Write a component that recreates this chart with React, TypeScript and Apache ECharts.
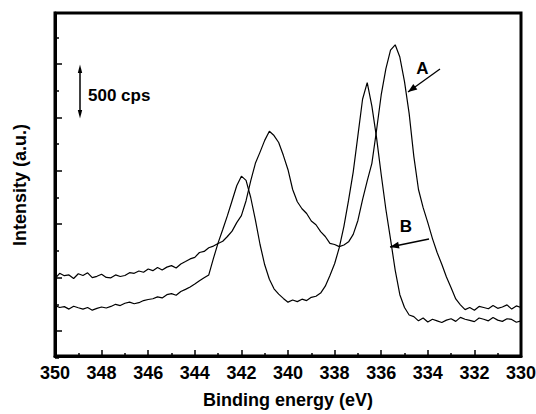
import React, { useEffect, useRef } from "react";
import * as echarts from "echarts";

// Binding energy grid (eV)
const energies = [
  350, 349.8, 349.6, 349.4, 349.2, 349, 348.8, 348.6, 348.4, 348.2,
  348, 347.8, 347.6, 347.4, 347.2, 347, 346.8, 346.6, 346.4, 346.2,
  346, 345.8, 345.6, 345.4, 345.2, 345, 344.8, 344.6, 344.4, 344.2,
  344, 343.8, 343.6, 343.4, 343.2, 343, 342.8, 342.6, 342.4, 342.2,
  342, 341.8, 341.6, 341.4, 341.2, 341, 340.8, 340.6, 340.4, 340.2,
  340, 339.8, 339.6, 339.4, 339.2, 339, 338.8, 338.6, 338.4, 338.2,
  338, 337.8, 337.6, 337.4, 337.2, 337, 336.8, 336.6, 336.4, 336.2,
  336, 335.8, 335.6, 335.4, 335.2, 335, 334.8, 334.6, 334.4, 334.2,
  334, 333.8, 333.6, 333.4, 333.2, 333, 332.8, 332.6, 332.4, 332.2,
  332, 331.8, 331.6, 331.4, 331.2, 331, 330.8, 330.6, 330.4, 330.2,
  330,
];

// Curve A intensity (cps, relative)
const curveA = [
  740, 790, 768, 775, 742, 786, 770, 795, 750, 762,
  781, 752, 748, 775, 760, 770, 796, 790, 812, 800,
  830, 815, 845, 822, 848, 862, 840, 878, 900, 925,
  940, 985, 995, 1030, 1045, 1070, 1090, 1135, 1185, 1265,
  1330, 1470, 1655, 1820, 1925, 2035, 2120, 2080, 2015, 1895,
  1760, 1575, 1460, 1395, 1350, 1280, 1245, 1180, 1135, 1070,
  1060, 1040, 1055, 1085, 1155, 1285, 1480, 1655, 1820, 2130,
  2460, 2705, 2880, 2930, 2815, 2585, 2285, 1885, 1575, 1405,
  1265, 1115, 985, 875, 755, 655, 550, 495, 450, 470,
  445, 480, 470, 458, 488, 462, 475, 495, 455, 485,
  470,
];

// Curve B intensity (cps, relative)
const curveB = [
  490, 470, 478, 455, 482, 468, 455, 470, 445, 462,
  475, 465, 480, 500, 488, 510, 520, 505, 515, 535,
  545, 552, 570, 560, 590, 600, 585, 620, 640, 662,
  690, 720, 748, 775, 930, 1075, 1200, 1330, 1470, 1610,
  1700, 1660, 1500, 1290, 1060, 870, 735, 645, 595, 555,
  520, 540, 525, 548, 535, 565, 575, 605, 670, 770,
  880, 1030, 1230, 1475, 1740, 2080, 2420, 2575, 2355, 2060,
  1715, 1390, 1110, 820, 590, 470, 400, 385, 345, 372,
  335, 360, 345, 330, 352, 365, 340, 378, 360, 350,
  338, 372, 360, 345, 376, 352, 340, 365, 358, 332,
  345,
];

const FONT = '"Liberation Sans", Arial, Helvetica, sans-serif';

function arrowHead(x1: number, y1: number, x2: number, y2: number, len = 9, hw = 3.5) {
  const dx = x2 - x1;
  const dy = y2 - y1;
  const d = Math.sqrt(dx * dx + dy * dy);
  const ux = dx / d;
  const uy = dy / d;
  const bx = x2 - ux * len;
  const by = y2 - uy * len;
  return [
    [x2, y2],
    [bx - uy * hw, by + ux * hw],
    [bx + uy * hw, by - ux * hw],
  ];
}

function arrow(x1: number, y1: number, x2: number, y2: number) {
  return [
    {
      type: "line",
      shape: { x1, y1, x2, y2 },
      style: { stroke: "#000", lineWidth: 1.3 },
      z: 100,
    },
    {
      type: "polygon",
      shape: { points: arrowHead(x1, y1, x2, y2) },
      style: { fill: "#000" },
      z: 100,
    },
  ];
}

function label(text: string, x: number, y: number, align: string, size = 17) {
  return {
    type: "text",
    x,
    y,
    z: 100,
    style: {
      text,
      fontFamily: FONT,
      fontWeight: "bold",
      fontSize: size,
      fill: "#000",
      align,
      verticalAlign: "middle",
      textAlign: align,
      textVerticalAlign: "middle",
    },
  };
}

export default function App() {
  const ref = useRef<HTMLDivElement>(null);

  useEffect(() => {
    if (!ref.current) return;
    const chart = echarts.init(ref.current, undefined, { renderer: "svg" });

    const dataA = energies.map((e, i) => [e, curveA[i]]);
    const dataB = energies.map((e, i) => [e, curveB[i]]);

    const option: any = {
      animation: false,
      backgroundColor: "#fff",
      grid: [
        {
          left: 55,
          right: 15,
          top: 13,
          bottom: 58,
          show: true,
          borderColor: "#000",
          borderWidth: 3,
          backgroundColor: "transparent",
          outerBoundsMode: "none",
          containLabel: false,
        },
        {
          left: 55,
          right: 15,
          top: 37.3,
          bottom: 56.3,
          show: false,
          outerBoundsMode: "none",
          containLabel: false,
        },
      ],
      xAxis: [
        {
          gridIndex: 0,
          type: "value",
          min: 330,
          max: 350,
          interval: 2,
          inverse: true,
          name: "Binding energy (eV)",
          nameLocation: "middle",
          nameGap: 35,
          nameTextStyle: {
            fontFamily: FONT,
            fontWeight: "bold",
            fontSize: 18,
            color: "#000",
          },
          axisLine: { show: true, onZero: false, lineStyle: { color: "#000", width: 3 } },
          axisTick: { show: true, inside: true, length: 6, lineStyle: { color: "#000", width: 1.5 } },
          minorTick: { show: true, splitNumber: 2, length: 3, lineStyle: { color: "#000", width: 1.5 } },
          axisLabel: {
            show: true,
            margin: 8,
            fontFamily: FONT,
            fontWeight: "bold",
            fontSize: 18,
            color: "#000",
            formatter: (v: number) => String(v),
          },
          splitLine: { show: false },
        },
        {
          gridIndex: 1,
          type: "value",
          min: 330,
          max: 350,
          interval: 2,
          inverse: true,
          show: false,
        },
      ],
      yAxis: [
        {
          gridIndex: 0,
          type: "value",
          min: 0,
          max: 1,
          axisLine: { show: true, onZero: false, lineStyle: { color: "#000", width: 3 } },
          axisTick: { show: false },
          axisLabel: { show: false },
          splitLine: { show: false },
        },
        {
          gridIndex: 1,
          type: "value",
          min: 0,
          max: 3000,
          interval: 500,
          axisLine: { show: false },
          axisTick: { show: true, inside: true, length: 4, lineStyle: { color: "#000", width: 1.5 } },
          minorTick: { show: true, splitNumber: 2, length: 7, lineStyle: { color: "#000", width: 1.5 } },
          axisLabel: { show: false },
          splitLine: { show: false },
          minorSplitLine: { show: false },
        },
      ],
      series: [
        {
          name: "A",
          type: "line",
          xAxisIndex: 1,
          yAxisIndex: 1,
          data: dataA,
          showSymbol: false,
          symbol: "none",
          lineStyle: { color: "#000", width: 1.2 },
          z: 3,
        },
        {
          name: "B",
          type: "line",
          xAxisIndex: 1,
          yAxisIndex: 1,
          data: dataB,
          showSymbol: false,
          symbol: "none",
          lineStyle: { color: "#000", width: 1.2 },
          z: 3,
        },
      ],
      graphic: [
        {
          type: "text",
          x: 19.5,
          y: 185,
          rotation: Math.PI / 2,
          style: {
            text: "Intensity (a.u.)",
            fontFamily: FONT,
            fontWeight: "bold",
            fontSize: 18,
            fill: "#000",
            align: "center",
            verticalAlign: "middle",
            textAlign: "center",
            textVerticalAlign: "middle",
          },
        },
        label("500 cps", 88, 95, "left"),
        {
          type: "line",
          shape: { x1: 80, y1: 70, x2: 80, y2: 113 },
          style: { stroke: "#000", lineWidth: 1.5 },
        },
        {
          type: "polygon",
          shape: { points: [[80, 64.5], [77.8, 73], [82.2, 73]] },
          style: { fill: "#000" },
        },
        {
          type: "polygon",
          shape: { points: [[80, 118.5], [77.8, 110], [82.2, 110]] },
          style: { fill: "#000" },
        },
        label("A", 422.5, 68.5, "center"),
        ...arrow(440, 69, 408, 92),
        label("B", 406, 226.5, "center"),
        ...arrow(429, 239, 390, 247),
      ],
    };

    chart.setOption(option);
    return () => {
      chart.dispose();
    };
  }, []);

  return (
    <div
      ref={ref}
      style={{ position: "fixed", left: 0, top: 0, width: 536, height: 414, background: "#fff" }}
    />
  );
}
